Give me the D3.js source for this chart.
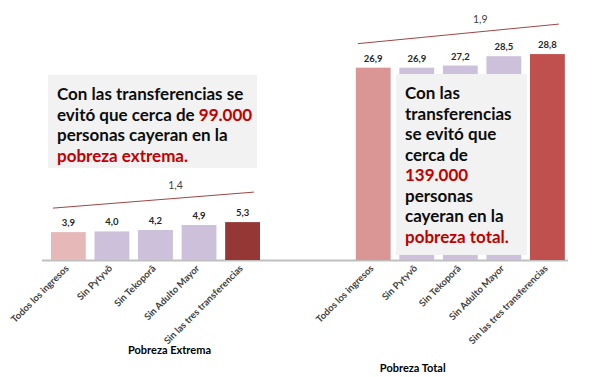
<!DOCTYPE html>
<html>
<head>
<meta charset="utf-8">
<script src="https://cdn.jsdelivr.net/npm/d3@7"></script>
<style>
  body { margin: 0; background: #fff; }
  svg { display: block; font-family: Lato, "Open Sans", sans-serif; }
</style>
</head>
<body>
<div id="chart"></div>
<script>
var width = 600,
    height = 377;

// data
var categories = ["Todos los ingresos", "Sin Pytyvõ", "Sin Tekoporã", "Sin Adulto Mayor", "Sin las tres transferencias"];
var extremaValues = [3.9, 4.0, 4.2, 4.9, 5.3];
var totalValues = [26.9, 26.9, 27.2, 28.5, 28.8];
var groupNames = ["Pobreza Extrema", "Pobreza Total"];
var diffLabels = ["1,4", "1,9"];
var extremaColors = ["#e6b9b8", "#ccc0da", "#ccc0da", "#ccc0da", "#953735"];
var totalColors = ["#d99694", "#ccc0da", "#ccc0da", "#ccc0da", "#c0504d"];

// one row per slot, two empty slots between the groups
var rows = [];
categories.forEach(function(c, i) {
  rows.push({key: "e" + i, cat: c, value: extremaValues[i], color: extremaColors[i], group: 0});
});
rows.push({key: "gap1"});
rows.push({key: "gap2"});
categories.forEach(function(c, i) {
  rows.push({key: "t" + i, cat: c, value: totalValues[i], color: totalColors[i], group: 1});
});
var bars = rows.filter(function(d) { return d.cat; });

var x = d3.scaleBand()
    .domain(rows.map(function(d) { return d.key; }))
    .range([46.6, 569.2])
    .paddingInner(0.2)
    .paddingOuter(0.1);

var y = d3.scaleLinear()
    .domain([0, 30])
    .range([260, 45.5]);

var fmt = function(v) { return d3.format(".1f")(v).replace(".", ","); };

var svg = d3.select("#chart").append("svg")
    .attr("width", width)
    .attr("height", height);

// baseline
svg.append("line")
    .attr("x1", 42).attr("x2", 568)
    .attr("y1", y(0) + 0.5).attr("y2", y(0) + 0.5)
    .attr("stroke", "#bfbfbf")
    .attr("stroke-width", 2);

svg.append("g").selectAll("rect")
    .data(bars)
  .enter().append("rect")
    .attr("x", function(d) { return x(d.key); })
    .attr("y", function(d) { return y(d.value); })
    .attr("width", x.bandwidth())
    .attr("height", function(d) { return y(0) - y(d.value); })
    .attr("fill", function(d) { return d.color; });

svg.append("g").selectAll("text")
    .data(bars)
  .enter().append("text")
    .attr("x", function(d) { return x(d.key) + x.bandwidth() / 2; })
    .attr("y", function(d) { return y(d.value) - 6; })
    .attr("text-anchor", "middle")
    .attr("font-size", 9.5)
    .attr("font-weight", "bold")
    .attr("fill", "#262626")
    .text(function(d) { return fmt(d.value); });

// difference brackets
[[extremaValues, "e", 0], [totalValues, "t", 1]].forEach(function(s) {
  var vals = s[0], p = s[1], gi = s[2];
  var x1 = x(p + "0") + 2,
      x2 = x(p + "4") + x.bandwidth() - 6,
      y1 = y(vals[0]) - 24,
      y2 = y(vals[4]) - 30;
  svg.append("line")
      .attr("x1", x1).attr("y1", y1)
      .attr("x2", x2).attr("y2", y2)
      .attr("stroke", "#a04545")
      .attr("stroke-width", 1);
  var lx = (x1 + x2) / 2 + 22,
      ly = y1 + (y2 - y1) * (lx - x1) / (x2 - x1);
  svg.append("text")
      .attr("x", lx)
      .attr("y", ly - 9)
      .attr("text-anchor", "middle")
      .attr("font-size", 10.5)
      .attr("fill", "#404040")
      .text(diffLabels[gi]);
});

// category labels
svg.append("g").selectAll("text")
    .data(bars)
  .enter().append("text")
    .attr("transform", function(d) {
      return "translate(" + (x(d.key) + x.bandwidth() / 2 + 1) + "," + 269 + ")rotate(-45)";
    })
    .attr("text-anchor", "end")
    .attr("font-size", 9.5)
    .attr("font-weight", "bold")
    .attr("fill", "#404040")
    .text(function(d) { return d.cat; });

svg.append("text")
    .attr("x", x("e2") + x.bandwidth() / 2 + 14)
    .attr("y", 354)
    .attr("text-anchor", "middle")
    .attr("font-size", 11)
    .attr("font-weight", "bold")
    .attr("fill", "#000")
    .text(groupNames[0]);

svg.append("text")
    .attr("x", x("t1") + x.bandwidth() / 2 - 4)
    .attr("y", 372)
    .attr("text-anchor", "middle")
    .attr("font-size", 11)
    .attr("font-weight", "bold")
    .attr("fill", "#000")
    .text(groupNames[1]);

// call-out boxes
function callout(bx, by, bw, bh, lines) {
  svg.append("rect")
      .attr("x", bx).attr("y", by)
      .attr("width", bw).attr("height", bh)
      .attr("fill", "#f2f2f2");
  var t = svg.append("text")
      .attr("font-size", 17)
      .attr("font-weight", "bold");
  lines.forEach(function(ln, i) {
    var row = t.append("tspan")
        .attr("x", bx + 9)
        .attr("y", by + 25 + i * 20.5);
    ln.forEach(function(part) {
      row.append("tspan")
          .attr("fill", part[1] ? "#c00000" : "#0d0d0d")
          .text(part[0]);
    });
  });
}

callout(48, 75, 209, 93, [
  [["Con las transferencias se"]],
  [["evitó que cerca de "], ["99.000", 1]],
  [["personas cayeran en la"]],
  [["pobreza extrema.", 1]]
]);

callout(396, 74, 131, 181, [
  [["Con las"]],
  [["transferencias"]],
  [["se evitó que"]],
  [["cerca de"]],
  [["139.000", 1]],
  [["personas"]],
  [["cayeran en la"]],
  [["pobreza total.", 1]]
]);
</script>
</body>
</html>
